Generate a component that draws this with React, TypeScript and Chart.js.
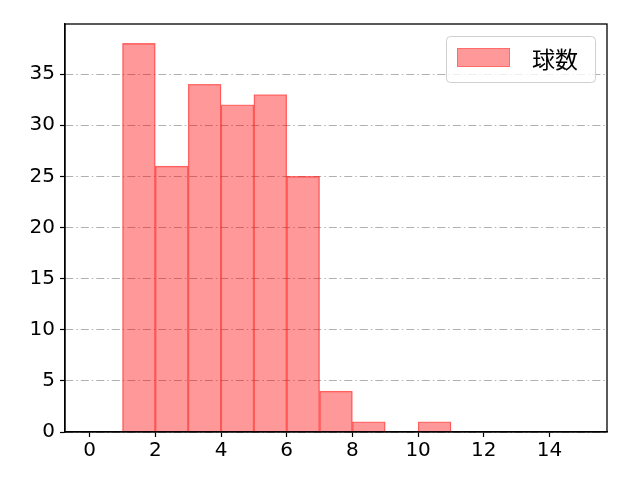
import { useEffect, useRef } from 'react';
import { Chart, type ChartConfiguration, type Plugin, registerables } from 'chart.js';

Chart.register(...registerables);

// Histogram bins (left edges, width 1) and counts
const binStarts = [1, 2, 3, 4, 5, 6, 7, 8, 9, 10];
const counts = [38, 26, 34, 32, 33, 25, 4, 1, 0, 1];
const seriesLabel = '球数';

const xTicks = [0, 2, 4, 6, 8, 10, 12, 14];
const yTicks = [0, 5, 10, 15, 20, 25, 30, 35];

const TICK_FONT = '"DejaVu Sans", sans-serif';
const CJK_FONT = '"Noto Sans CJK JP", "DejaVu Sans", sans-serif';
const FILL = 'rgba(255, 0, 0, 0.4)';
const EDGE = 'rgba(255, 30, 30, 0.6)';

// box around the plot + legend in upper right
const framePlugin: Plugin = {
    id: 'frame',
    afterDraw(chart) {
        const { ctx, chartArea } = chart;
        ctx.save();
        ctx.strokeStyle = '#000';
        ctx.lineWidth = 1.3;
        ctx.strokeRect(chartArea.left, chartArea.top, chartArea.right - chartArea.left, chartArea.bottom - chartArea.top);

        // legend
        const w = 149;
        const h = 46;
        const x = chartArea.right - 12 - w;
        const y = chartArea.top + 12;
        ctx.fillStyle = 'rgba(255,255,255,0.8)';
        ctx.strokeStyle = '#d0d0d0';
        ctx.lineWidth = 1;
        ctx.beginPath();
        ctx.roundRect(x + 0.5, y + 0.5, w, h, 4);
        ctx.fill();
        ctx.stroke();
        ctx.fillStyle = FILL;
        ctx.strokeStyle = 'rgba(255, 0, 0, 0.3)';
        ctx.fillRect(x + 11, y + 12, 53, 19);
        ctx.strokeRect(x + 11.5, y + 12.5, 52, 18);
        ctx.fillStyle = '#000';
        ctx.font = `23px ${CJK_FONT}`;
        ctx.textBaseline = 'middle';
        ctx.fillText(seriesLabel, x + 86, y + 23);
        ctx.restore();
    },
};

export default function App() {
    const chartRef = useRef<HTMLCanvasElement>(null);
    const chartInstance = useRef<Chart | null>(null);

    useEffect(() => {
        if (!chartRef.current) return;
        document.body.style.margin = '0';

        if (chartInstance.current) {
            chartInstance.current.destroy();
        }

        const ctx = chartRef.current.getContext('2d');
        if (!ctx) return;

        const config: ChartConfiguration = {
            type: 'bar',
            data: {
                datasets: [
                    {
                        label: seriesLabel,
                        data: binStarts.map((b, i) => ({ x: b + 0.5, y: counts[i] })),
                        backgroundColor: FILL,
                        borderColor: EDGE,
                        borderWidth: 0.7,
                        barPercentage: 1,
                        categoryPercentage: 1,
                    },
                ],
            },
            options: {
                animation: false,
                responsive: false,
                maintainAspectRatio: false,
                layout: { padding: { top: 24, right: 33, left: 0, bottom: 0 } },
                plugins: {
                    legend: { display: false },
                    tooltip: { enabled: false },
                },
                scales: {
                    x: {
                        type: 'linear',
                        offset: false,
                        min: -0.75,
                        max: 15.75,
                        afterBuildTicks: (scale) => {
                            scale.ticks = xTicks.map((v) => ({ value: v }));
                        },
                        afterFit: (scale) => {
                            scale.height = 48;
                        },
                        grid: {
                            offset: false,
                            drawOnChartArea: false,
                            tickColor: '#000',
                            tickLength: 5,
                            tickWidth: 1.2,
                        },
                        border: { color: '#000', width: 1.3 },
                        ticks: {
                            color: '#000',
                            font: { family: TICK_FONT, size: 20 },
                            padding: 2,
                            maxRotation: 0,
                            autoSkip: false,
                        },
                    },
                    y: {
                        type: 'linear',
                        z: 1, // grid drawn over the bars, as in the original
                        min: 0,
                        max: 39.9,
                        afterBuildTicks: (scale) => {
                            scale.ticks = yTicks.map((v) => ({ value: v }));
                        },
                        afterFit: (scale) => {
                            scale.width = 65;
                        },
                        grid: {
                            color: '#b0b0b0',
                            lineWidth: 1,
                            tickColor: '#000',
                            tickLength: 5,
                            tickWidth: 1.2,
                        },
                        border: { color: '#000', width: 1.3, dash: [8, 3, 1.5, 3] },
                        ticks: {
                            color: '#000',
                            font: { family: TICK_FONT, size: 20 },
                            padding: 5,
                            autoSkip: false,
                        },
                    },
                },
            },
            plugins: [framePlugin],
        };

        chartInstance.current = new Chart(ctx, config);

        return () => {
            if (chartInstance.current) {
                chartInstance.current.destroy();
            }
        };
    }, []);

    return (
        <div style={{ width: 640, height: 480 }}>
            <canvas ref={chartRef} width={640} height={480}></canvas>
        </div>
    );
}
